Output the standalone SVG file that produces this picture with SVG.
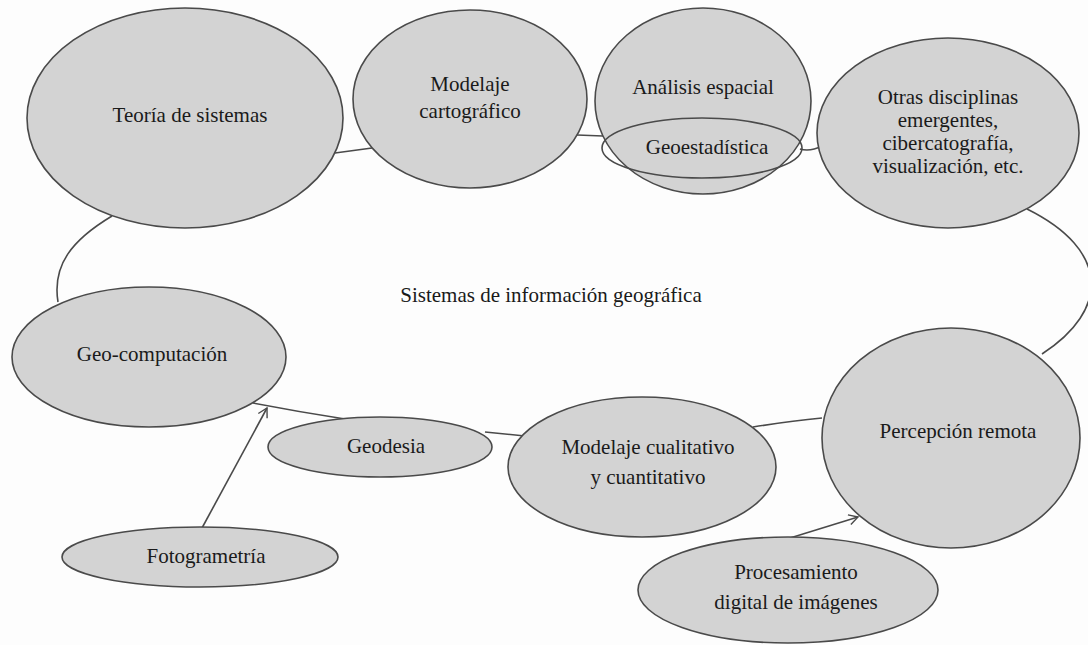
<svg xmlns="http://www.w3.org/2000/svg" width="1088" height="645" viewBox="0 0 1088 645">
<style>
.n{fill:#d3d3d3;stroke:#4a4a4a;stroke-width:1.6}
.o{fill:none;stroke:#4a4a4a;stroke-width:1.6}
.c{fill:none;stroke:#4a4a4a;stroke-width:1.6}
text{font-family:"Liberation Serif","Times New Roman",serif;font-size:21px;fill:#1a1a1a;text-anchor:middle}
</style>
<defs>
<marker id="ah" markerWidth="12" markerHeight="12" refX="10" refY="6" orient="auto" markerUnits="userSpaceOnUse">
<path d="M1,1 L10,6 L1,11" fill="none" stroke="#4a4a4a" stroke-width="1.4"/>
</marker>
</defs>
<rect width="1088" height="645" fill="#fdfdfd"/>
<g id="connectors">
<path class="c" d="M335,153 L372,148"/>
<path class="c" d="M577,135 L603,136"/>
<path class="c" d="M800,149 Q810,152 822,146"/>
<path class="c" d="M1027,209 C1110,250 1110,310 1042,354"/>
<path class="c" d="M753,427 Q790,421 822,418"/>
<path class="c" d="M485,432 Q505,434 525,436"/>
<path class="c" d="M253,403 Q300,412 345,419"/>
<path class="c" d="M112,216 C72,240 52,265 58,302"/>
<path class="c" d="M202,528 L267,408" marker-end="url(#ah)"/>
<path class="c" d="M790,538 L858,517" marker-end="url(#ah)"/>
</g>
<g id="teoria"><ellipse class="n" cx="185" cy="118" rx="158" ry="110"/><text x="190" y="122">Teoría de sistemas</text></g>
<g id="modelaje-cartografico"><ellipse class="n" cx="470" cy="99" rx="117" ry="89"/><text x="470" y="91">Modelaje</text><text x="470" y="118">cartográfico</text></g>
<g id="analisis"><ellipse class="n" cx="703" cy="101" rx="108" ry="93"/><text x="703" y="94">Análisis espacial</text></g>
<g id="geoestadistica"><ellipse class="o" cx="702" cy="148" rx="100" ry="30"/><text x="707" y="154">Geoestadística</text></g>
<g id="otras"><ellipse class="n" cx="948" cy="133" rx="131" ry="95"/><text x="948" y="104">Otras disciplinas</text><text x="948" y="127">emergentes,</text><text x="948" y="150">cibercatografía,</text><text x="948" y="173">visualización, etc.</text></g>
<g id="sig"><text x="551" y="302">Sistemas de información geográfica</text></g>
<g id="geocomputacion"><ellipse class="n" cx="149" cy="357" rx="137" ry="70"/><text x="152" y="361">Geo-computación</text></g>
<g id="geodesia"><ellipse class="n" cx="380" cy="447" rx="112" ry="30"/><text x="386" y="453">Geodesia</text></g>
<g id="fotogrametria"><ellipse class="n" cx="200" cy="557" rx="138" ry="30"/><text x="206" y="563">Fotogrametría</text></g>
<g id="modelaje-cualitativo"><ellipse class="n" cx="642" cy="467" rx="134" ry="70"/><text x="648" y="454">Modelaje cualitativo</text><text x="648" y="484">y cuantitativo</text></g>
<g id="percepcion"><ellipse class="n" cx="951" cy="438" rx="129" ry="110"/><text x="958" y="438">Percepción remota</text></g>
<g id="procesamiento"><ellipse class="n" cx="788" cy="590" rx="150" ry="53"/><text x="796" y="579">Procesamiento</text><text x="796" y="609">digital de imágenes</text></g>
</svg>
